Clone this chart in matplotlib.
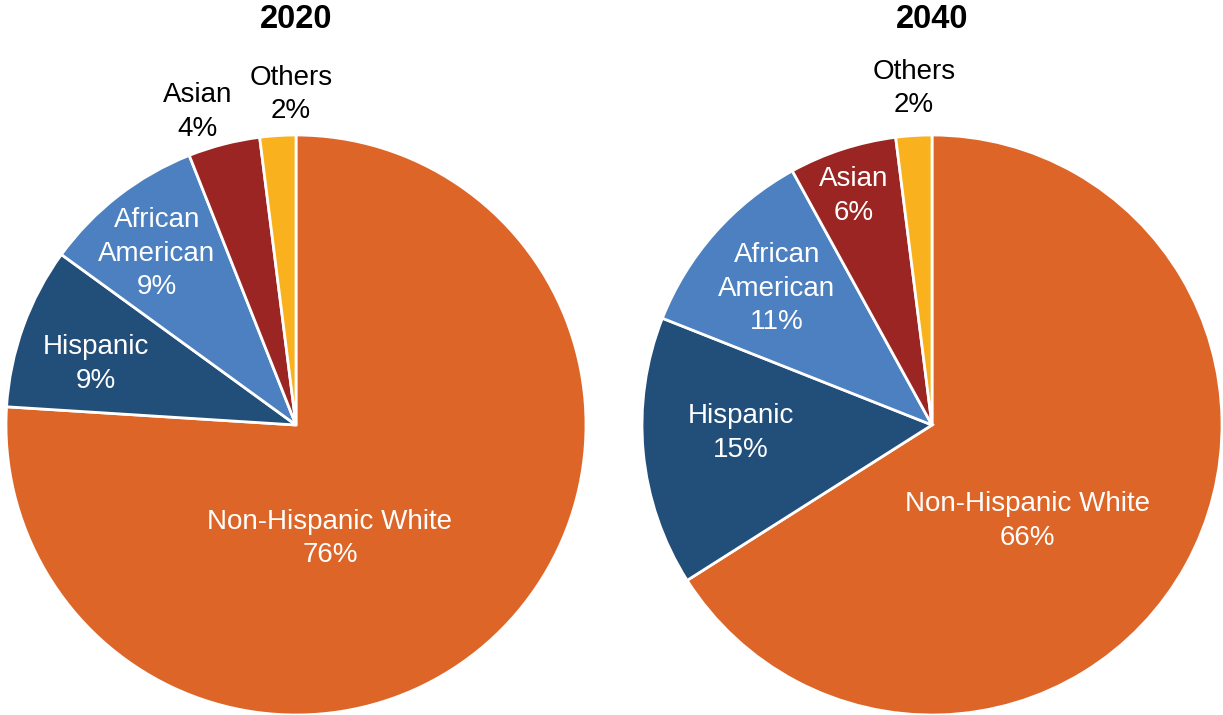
import matplotlib.pyplot as plt

plt.rcParams['font.family'] = ['Liberation Sans', 'DejaVu Sans']

groups = ['Non-Hispanic White', 'Hispanic', 'African\nAmerican', 'Asian', 'Others']
share_2020 = [76, 9, 9, 4, 2]
share_2040 = [66, 15, 11, 6, 2]
years = ['2020', '2040']

colors = ['#DD6527', '#224E7A', '#4C80C0', '#9B2522', '#F9B11E']

# label offsets from the pie centre, in units of the radius
label_pos_2020 = [(0.117, -0.392), (-0.69, 0.21), (-0.48, 0.59), (-0.34, 1.08), (-0.017, 1.14)]
label_pos_2040 = [(0.33, -0.332), (-0.66, -0.027), (-0.535, 0.47), (-0.27, 0.79), (-0.063, 1.16)]
# labels drawn outside the pie are black
outside_2020 = [False, False, False, True, True]
outside_2040 = [False, False, False, False, True]

W, H = 1223, 715
fig = plt.figure(figsize=(W / 100, H / 100), dpi=100)

R = 290
centres = [(296, 425), (932, 425)]
shares = [share_2020, share_2040]
label_pos = [label_pos_2020, label_pos_2040]
outside = [outside_2020, outside_2040]

for (cx, cy), vals, pos, out, year in zip(centres, shares, label_pos, outside, years):
    ybot = H - cy - R
    ax = fig.add_axes([(cx - R) / W, ybot / H, 2 * R / W, 2 * R / H])
    ax.pie(vals, colors=colors, startangle=90, counterclock=False, radius=1,
           wedgeprops=dict(edgecolor='white', linewidth=2))
    ax.set_xlim(-1, 1)
    ax.set_ylim(-1, 1)
    ax.set_aspect('equal')
    ax.axis('off')
    for name, v, (x, y), o in zip(groups, vals, pos, out):
        ax.text(x, y, f'{name}\n{v}%', ha='center', va='center', fontsize=20,
                color='black' if o else 'white', linespacing=1.38, clip_on=False)
    fig.text(cx / W, 1 - 20 / H, year, ha='center', va='center',
             fontsize=23.5, fontweight='bold')

fig.savefig('out.png', dpi=100)
